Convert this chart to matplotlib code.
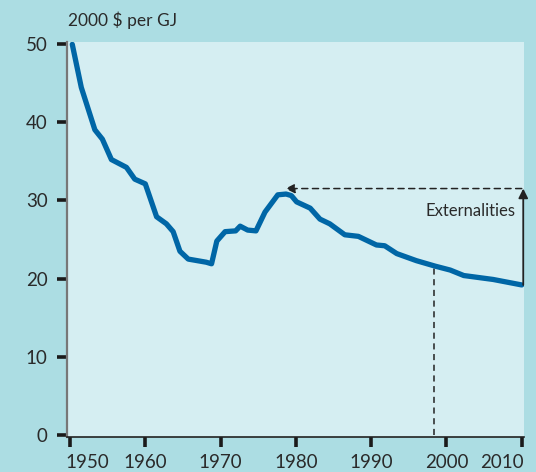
import matplotlib
matplotlib.use("Agg")
import matplotlib.pyplot as plt
from matplotlib.transforms import ScaledTranslation

# price series, 2000 $ per GJ
years = [1950.3, 1951.5, 1953.3, 1954.3, 1955.5, 1957.5, 1958.6, 1960.0, 1961.5,
         1962.8, 1963.7, 1964.6, 1965.7, 1968.1, 1968.8, 1969.5, 1970.6, 1972.0,
         1972.6, 1973.6, 1974.7, 1975.9, 1977.6, 1978.7, 1979.4, 1980.1, 1981.9,
         1983.2, 1984.5, 1986.5, 1988.3, 1990.7, 1991.8, 1993.4, 1996.0, 1998.5,
         2000.5, 2002.3, 2006.2, 2010.0]
prices = [49.9, 44.4, 39.0, 37.8, 35.2, 34.2, 32.7, 32.1, 27.9,
          27.0, 26.0, 23.5, 22.5, 22.1, 21.9, 24.8, 26.0, 26.1,
          26.7, 26.2, 26.1, 28.5, 30.7, 30.8, 30.6, 29.8, 29.0,
          27.6, 27.0, 25.6, 25.4, 24.3, 24.2, 23.2, 22.3, 21.6,
          21.1, 20.4, 19.9, 19.2]

xticks = [1950, 1960, 1970, 1980, 1990, 2000, 2010]
yticks = [0, 10, 20, 30, 40, 50]

ext_level = 31.5      # price incl. externalities
ext_year_from = 2010
ext_year_to = 1978.6  # year the arrow points back to
marker_year = 1998.4  # dashed vertical

outer = "#acdde3"
inner = "#d5eef2"
blue = "#0066a6"
txt = "#2a2a2a"
font = "Lato"

fig = plt.figure(figsize=(5.36, 4.72), dpi=100, facecolor=outer)
ax = fig.add_axes([0.125, 0.0742, 0.8526, 0.8368])
ax.set_facecolor(inner)

ax.plot(years, prices, color=blue, lw=3.8, solid_joinstyle="round",
        solid_capstyle="round", zorder=3)

# externalities arrows
ax.annotate("", xy=(ext_year_to, ext_level), xytext=(ext_year_from, ext_level),
            arrowprops=dict(arrowstyle="-|>", color="#222222", lw=1.1,
                            linestyle=(0, (4, 3)), mutation_scale=14,
                            shrinkA=0, shrinkB=0))
ax.annotate("", xy=(ext_year_from + 0.2, ext_level), xytext=(ext_year_from + 0.2, prices[-1]),
            arrowprops=dict(arrowstyle="-|>", color="#222222", lw=1.3,
                            mutation_scale=14, shrinkA=0, shrinkB=0))
ax.text(2009.2, 28.6, "Externalities", ha="right", va="center",
        fontsize=12, family=font, color=txt)

ax.plot([marker_year, marker_year], [0, 21.7], color="#222222", lw=1.1,
        linestyle=(0, (4, 3)), zorder=2)

ax.set_xlim(1949.6, 2010.3)
ax.set_ylim(-0.2, 50.2)
ax.set_xticks(xticks)
ax.set_yticks(yticks)
ax.set_xticklabels([str(y) for y in xticks])
ax.set_yticklabels([str(v) for v in yticks])

for s in ["top", "right"]:
    ax.spines[s].set_visible(False)
ax.spines["left"].set_color("#777777")
ax.spines["left"].set_linewidth(1.6)
ax.spines["bottom"].set_color("#222222")
ax.spines["bottom"].set_linewidth(1.2)

ax.tick_params(axis="x", direction="out", length=7, width=2.6, color="#1a1a1a",
               pad=5, labelsize=13.5, labelcolor=txt)
ax.tick_params(axis="y", direction="out", length=7, width=2.6, color="#1a1a1a",
               pad=7, labelsize=13.5, labelcolor=txt)
for lab in ax.get_xticklabels() + ax.get_yticklabels():
    lab.set_family(font)
labs = ax.get_xticklabels()
labs[0].set_ha("left")
labs[0].set_transform(labs[0].get_transform() + ScaledTranslation(-5 / 100, 0, fig.dpi_scale_trans))
labs[-1].set_ha("right")
labs[-1].set_transform(labs[-1].get_transform() + ScaledTranslation(2 / 100, 0, fig.dpi_scale_trans))

fig.text(0.127, 0.957, "2000 $ per GJ", ha="left", va="center", fontsize=12.5,
         family=font, color=txt)

fig.savefig("out.png", dpi=100, facecolor=outer)
